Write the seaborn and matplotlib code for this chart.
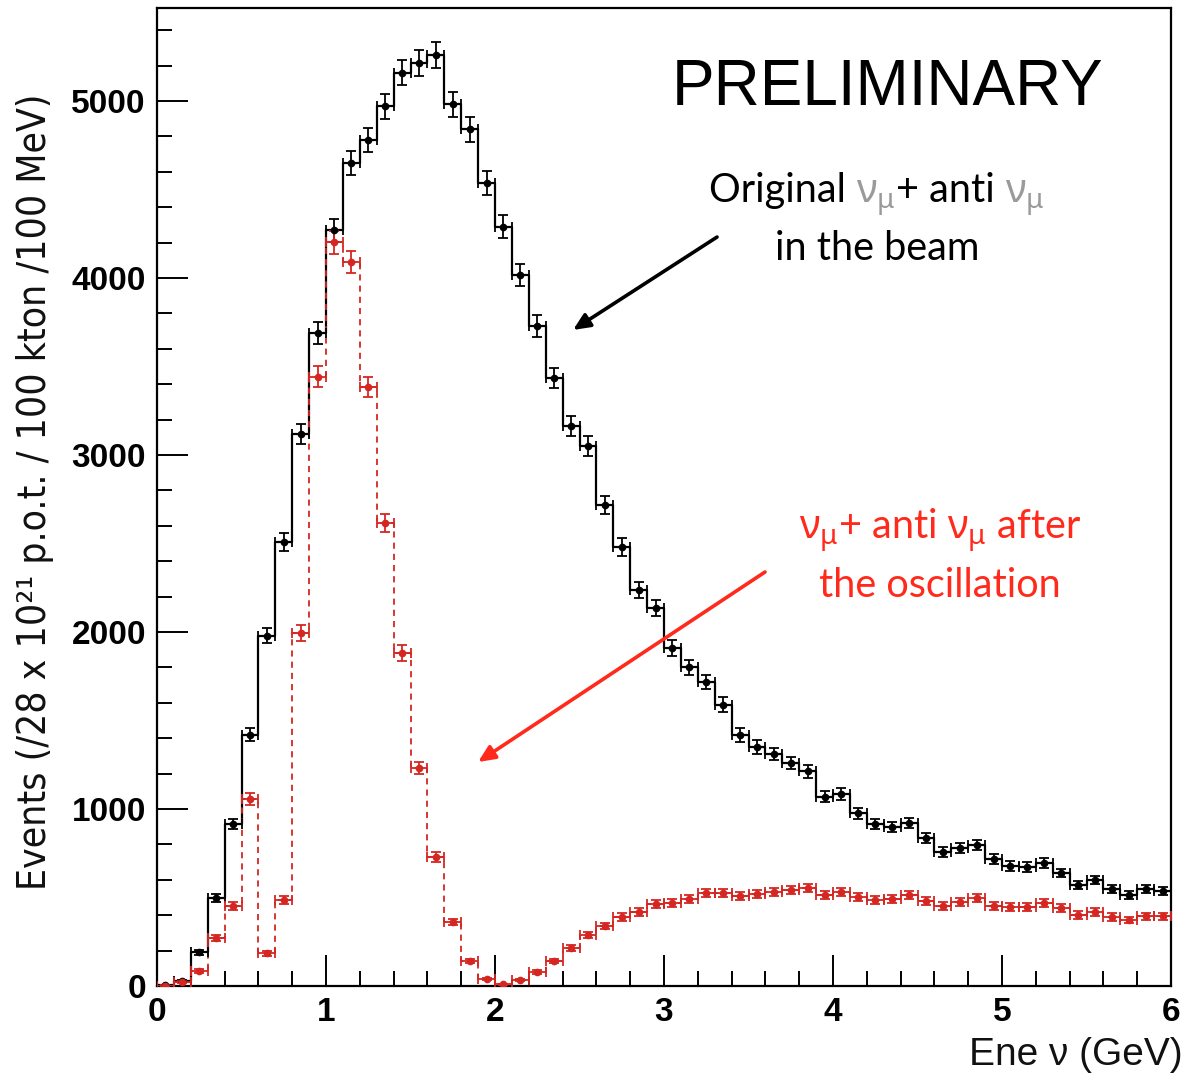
import numpy as np
import pandas as pd
import matplotlib
matplotlib.use("Agg")
import matplotlib.pyplot as plt
import seaborn as sns
from matplotlib import font_manager as fm
from matplotlib.offsetbox import TextArea, HPacker, AnnotationBbox
from matplotlib.ticker import MultipleLocator

# ---------------- data ----------------
bin_edges = np.linspace(0.0, 6.0, 61)           # 100 MeV bins
bin_centers = 0.5 * (bin_edges[:-1] + bin_edges[1:])

original_counts = [5, 30, 190, 495, 915, 1420, 1980, 2510, 3120, 3690,
                   4270, 4650, 4780, 4970, 5160, 5215, 5260, 4980, 4840, 4535,
                   4290, 4015, 3730, 3435, 3165, 3050, 2718, 2480, 2237, 2135,
                   1910, 1800, 1718, 1590, 1418, 1350, 1310, 1260, 1212, 1070,
                   1085, 977, 915, 898, 921, 836, 757, 780, 797, 717,
                   678, 672, 695, 638, 571, 599, 548, 514, 548, 537]
original_errors = [2, 5, 14, 22, 30, 38, 44, 50, 56, 61,
                   65, 68, 69, 70, 72, 72, 73, 71, 70, 67,
                   65, 63, 61, 59, 56, 55, 52, 50, 47, 46,
                   44, 42, 41, 40, 38, 37, 36, 35, 35, 33,
                   33, 31, 30, 30, 30, 29, 28, 28, 28, 27,
                   26, 26, 26, 25, 24, 24, 23, 23, 23, 23]

oscillated_counts = [2, 23, 85, 271, 452, 1056, 186, 486, 1994, 3441,
                     4203, 4090, 3384, 2616, 1881, 1232, 729, 362, 141, 40,
                     11, 34, 79, 141, 215, 288, 339, 390, 418, 463,
                     469, 492, 525, 525, 508, 520, 531, 542, 554, 514,
                     531, 503, 486, 492, 514, 480, 452, 475, 497, 452,
                     446, 446, 469, 441, 401, 418, 390, 373, 395, 395]
oscillated_errors = [1, 5, 9, 16, 21, 32, 14, 22, 45, 59,
                     65, 64, 58, 51, 43, 35, 27, 19, 12, 6,
                     3, 6, 9, 12, 15, 17, 18, 20, 20, 22,
                     22, 22, 23, 23, 23, 23, 23, 23, 24, 23,
                     23, 22, 22, 22, 23, 22, 21, 22, 22, 21,
                     21, 21, 22, 21, 20, 20, 20, 19, 20, 20]

x_ticks = [0, 1, 2, 3, 4, 5, 6]
x_tick_labels = ["0", "1", "2", "3", "4", "5", "6"]
y_ticks = [0, 1000, 2000, 3000, 4000, 5000]
y_tick_labels = ["0", "1000", "2000", "3000", "4000", "5000"]

df = pd.DataFrame({"energy": bin_centers,
                   "original": original_counts,
                   "oscillated": oscillated_counts})

# ---------------- style ----------------
sns.set_style("white")
plt.rcParams["font.family"] = ["Liberation Sans", "DejaVu Sans"]
plt.rcParams["text.color"] = "black"
plt.rcParams["axes.labelcolor"] = "black"
plt.rcParams["xtick.color"] = "black"
plt.rcParams["ytick.color"] = "black"
plt.rcParams["mathtext.fontset"] = "custom"
plt.rcParams["mathtext.rm"] = "Noto Sans"
plt.rcParams["mathtext.it"] = "Noto Sans:italic"
plt.rcParams["mathtext.bf"] = "Noto Sans:bold"

RED_HIST = "#d52622"
RED_TEXT = "#ff2a1c"
GREY = "#9a9a9a"

fig = plt.figure(figsize=(11.86, 10.78), dpi=100)
ax = fig.add_axes([157 / 1186, 1 - 986 / 1078, 1014 / 1186, 978 / 1078])

sns.histplot(data=df, x="energy", weights="original", bins=bin_edges.tolist(),
             element="step", fill=False, color="black", linewidth=1.6, ax=ax)
sns.histplot(data=df, x="energy", weights="oscillated", bins=bin_edges.tolist(),
             element="step", fill=False, color=RED_HIST, linewidth=1.3,
             linestyle=(0, (3.4, 2.8)), ax=ax)

ax.errorbar(bin_centers, original_counts, yerr=original_errors, xerr=0.05,
            fmt="o", ms=4.5, color="black", elinewidth=1.3, capsize=3.5,
            capthick=1.3, zorder=4)
ax.errorbar(bin_centers, oscillated_counts, yerr=oscillated_errors, xerr=0.05,
            fmt="o", ms=4.5, color=RED_HIST, elinewidth=1.3, capsize=3.5,
            capthick=1.3, zorder=4)

ax.set_xlim(0, 6)
ax.set_ylim(0, 5525)
ax.set_xticks(x_ticks)
ax.set_xticklabels(x_tick_labels, fontweight="bold", fontsize=24, color="black")
ax.set_yticks(y_ticks)
ax.set_yticklabels(y_tick_labels, fontweight="bold", fontsize=24, color="black")
ax.xaxis.set_minor_locator(MultipleLocator(0.2))
ax.yaxis.set_minor_locator(MultipleLocator(200))
ax.tick_params(which="major", direction="in", length=22, width=1.4,
               color="black", pad=8, bottom=True, left=True,
               top=False, right=False)
ax.tick_params(which="minor", direction="in", length=11, width=1.4,
               color="black", bottom=True, left=True, top=False, right=False)
for s in ax.spines.values():
    s.set_visible(True)
    s.set_linewidth(1.6)
    s.set_color("black")

# condensed face for the y label if one is installed
cond_path = fm.findfont(fm.FontProperties(family="DejaVu Sans",
                                          stretch="condensed"))
ylab_kw = dict(family=["DejaVu Sans"])
if "ondensed" in cond_path:
    ylab_kw["fontstretch"] = "condensed"
ax.set_ylabel("Events (/28 x 10\u00b2\u00b9 p.o.t. / 100 kton /100 MeV)",
              fontsize=29, va="center", color="#111111", **ylab_kw)
ax.yaxis.set_label_coords(-(157 - 35) / 1014, 0.505)
ax.set_xlabel("Ene \u03bd (GeV)", fontsize=28, ha="right", va="center",
              color="#111111")
ax.xaxis.set_label_coords((1183 - 157) / 1014, -(1055 - 986) / 978)

# ---------------- annotations ----------------
ax.text(0.7209, 0.918, "PRELIMINARY", transform=ax.transAxes,
        fontsize=46, ha="center", va="center", color="black")

ann_font = dict(fontsize=28.5, family=["Lato", "Noto Sans"])
nu_mu = r"$\mathrm{\nu_\mu}$"
line1 = HPacker(children=[
    TextArea("Original ", textprops=dict(color="black", **ann_font)),
    TextArea(nu_mu, textprops=dict(color=GREY, **ann_font)),
    TextArea("+ anti ", textprops=dict(color="black", **ann_font)),
    TextArea(nu_mu, textprops=dict(color=GREY, **ann_font)),
], align="baseline", pad=0, sep=0)
ax.add_artist(AnnotationBbox(line1, (0.710, 0.8088), xycoords="axes fraction",
                             frameon=False, box_alignment=(0.5, 0.5)))
ax.text(0.710, 0.7546, "in the beam", transform=ax.transAxes,
        ha="center", va="center", color="black", **ann_font)

ax.text(0.772, 0.4663, nu_mu + "+ anti " + nu_mu + " after",
        transform=ax.transAxes, ha="center", va="center", color=RED_TEXT,
        **ann_font)
ax.text(0.772, 0.410, "the oscillation", transform=ax.transAxes,
        ha="center", va="center", color=RED_TEXT, **ann_font)

ax.annotate("", xy=(0.4103, 0.6708), xytext=(0.5523, 0.7658),
            xycoords="axes fraction", textcoords="axes fraction",
            arrowprops=dict(arrowstyle="-|>,head_length=1.0,head_width=0.45",
                            color="black", lw=2.6, shrinkA=0, shrinkB=0))
ax.annotate("", xy=(0.3166, 0.2290), xytext=(0.5996, 0.4233),
            xycoords="axes fraction", textcoords="axes fraction",
            arrowprops=dict(arrowstyle="-|>,head_length=1.0,head_width=0.45",
                            color=RED_TEXT, lw=2.6, shrinkA=0, shrinkB=0))

# fit the y label to the length it has in the reference (~795 px)
fig.canvas.draw()
lab = ax.yaxis.label
h = lab.get_window_extent(fig.canvas.get_renderer()).height
lab.set_fontsize(lab.get_fontsize() * 795.0 / h)

fig.savefig("out.png", dpi=100, facecolor="white")
